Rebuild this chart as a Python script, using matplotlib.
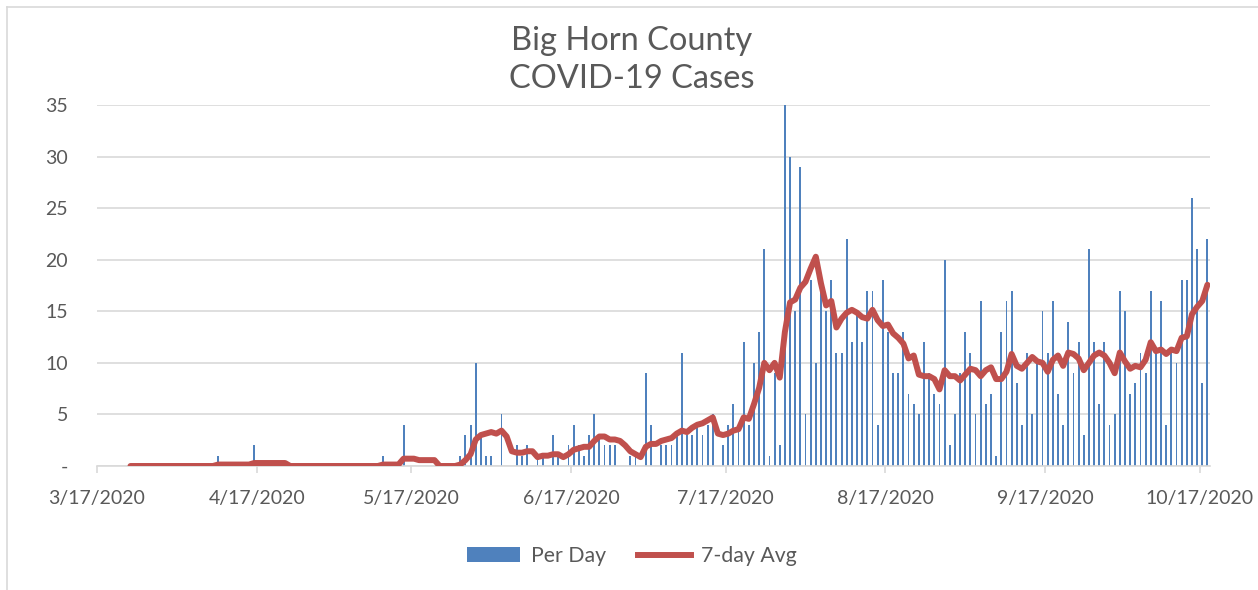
import matplotlib
matplotlib.use('Agg')
import matplotlib.pyplot as plt
import matplotlib.dates as mdates
from matplotlib.patches import Patch
from matplotlib.lines import Line2D
import pandas as pd

# Daily new cases, one value per day starting 3/17/2020
per_day = [
    0, 0, 0, 0, 0, 0, 0, 0, 0, 0, 0, 0, 0, 0, 0, 0, 0, 0, 0, 0,
    0, 0, 0, 1, 0, 0, 0, 0, 0, 0, 2, 0, 0, 0, 0, 0, 0, 0, 0, 0,
    0, 0, 0, 0, 0, 0, 0, 0, 0, 0, 0, 0, 0, 0, 0, 1, 0, 0, 0, 4,
    0, 0, 0, 0, 0, 0, 0, 0, 0, 0,
    1, 3, 4, 10, 3, 1, 1, 0, 5, 0,
    0, 2, 1, 2, 0, 1, 1, 0, 3, 1,
    0, 2, 4, 2, 1, 3, 5, 3, 2, 2,
    2, 0, 0, 1, 1, 0, 9, 4, 0, 2,
    2, 2, 3, 11, 3, 3, 4, 3, 4, 5,
    0, 2, 4, 6, 4, 12, 4, 10, 13, 21,
    1, 9, 2, 35, 30, 15, 29, 5, 18, 10,
    17, 15, 18, 11, 11, 22, 12, 15, 12, 17,
    17, 4, 18, 13, 9, 9, 13, 7, 6, 5,
    12, 9, 7, 6, 20, 2, 5, 9, 13, 11,
    5, 16, 6, 7, 1, 13, 16, 17, 8, 4,
    11, 5, 10, 15, 11, 16, 7, 4, 14, 9,
    12, 3, 21, 12, 6, 12, 4, 5, 17, 15,
    7, 8, 11, 9, 17, 11, 16, 4, 11, 10,
    18, 18, 26, 21, 8, 22,
]

# 7-day average, one value per day starting 3/23/2020
avg_7day = [
    0, 0, 0, 0, 0, 0, 0, 0, 0, 0, 0, 0, 0, 0, 0, 0, 0,
    0.14, 0.14, 0.14, 0.14, 0.14, 0.14, 0.14,
    0.29, 0.29, 0.29, 0.29, 0.29, 0.29, 0.29,
    0, 0, 0, 0, 0, 0, 0, 0, 0, 0, 0, 0, 0, 0, 0, 0, 0, 0,
    0.14, 0.14, 0.14, 0.14, 0.71, 0.71, 0.71, 0.57, 0.57, 0.57, 0.57,
    0, 0, 0, 0,
    0.14, 0.57, 1.14, 2.57, 3.0, 3.14, 3.29, 3.14, 3.43, 2.86,
    1.43, 1.29, 1.29, 1.43, 1.43, 0.86, 1.0, 1.0, 1.14, 1.14,
    0.86, 1.14, 1.57, 1.71, 1.86, 1.86, 2.43, 2.86, 2.86, 2.57,
    2.57, 2.43, 2.0, 1.43, 1.14, 0.86, 1.86, 2.14, 2.14, 2.43,
    2.57, 2.71, 3.14, 3.43, 3.29, 3.71, 4.0, 4.14, 4.43, 4.71,
    3.14, 3.0, 3.14, 3.43, 3.57, 4.71, 4.57, 6.0, 7.57, 10.0,
    9.29, 10.0, 8.57, 13.0, 15.86, 16.14, 17.29, 17.86, 19.14, 20.29,
    17.71, 15.57, 16.0, 13.43, 14.29, 14.86, 15.14, 14.86, 14.43, 14.29,
    15.14, 14.14, 13.57, 13.71, 12.86, 12.43, 11.86, 10.43, 10.71, 8.86,
    8.71, 8.71, 8.43, 7.43, 9.29, 8.71, 8.71, 8.29, 8.86, 9.43,
    9.29, 8.71, 9.29, 9.57, 8.43, 8.43, 9.14, 10.86, 9.71, 9.43,
    10.0, 10.57, 10.14, 10.0, 9.14, 10.29, 10.71, 9.71, 11.0, 10.86,
    10.43, 9.29, 10.0, 10.71, 11.0, 10.71, 10.0, 9.0, 11.0, 10.14,
    9.43, 9.71, 9.57, 10.29, 12.0, 11.14, 11.29, 10.86, 11.29, 11.14,
    12.43, 12.57, 14.71, 15.43, 16.0, 17.57,
]

start_bars = '2020-03-17'
start_avg = '2020-03-23'
axis_end = '2020-10-19'
title = 'Big Horn County\nCOVID-19 Cases'

text_color = '#595959'
grid_color = '#D9D9D9'
bar_color = '#4F81BD'
line_color = '#C0504D'

plt.rcParams['font.family'] = ['Lato', 'DejaVu Sans']

half_day = pd.Timedelta(hours=12)
bar_dates = pd.date_range(start_bars, periods=len(per_day)) + half_day
avg_dates = pd.date_range(start_avg, periods=len(avg_7day)) + half_day

fig = plt.figure(figsize=(12.58, 5.90), dpi=100)
ax = fig.add_axes([97 / 1258, 1 - 466 / 590, (1210 - 97) / 1258, (466 - 105) / 590])

# Bars and 7-day line
ax.bar(bar_dates, per_day, width=0.36, color=bar_color, zorder=2)
ax.plot(avg_dates, avg_7day, color=line_color, linewidth=4.3,
        solid_capstyle='round', solid_joinstyle='round', zorder=3)

ax.set_xlim(pd.Timestamp(start_bars), pd.Timestamp(axis_end))
ax.set_ylim(0, 35)

# Axes styling
ax.set_yticks(range(0, 36, 5))
ax.set_yticklabels(['-' if v == 0 else str(v) for v in range(0, 36, 5)])
ax.grid(True, axis='y', color=grid_color, linewidth=1.2, zorder=0)
ax.set_axisbelow(True)
for side in ['top', 'right', 'left']:
    ax.spines[side].set_visible(False)
ax.spines['bottom'].set_color(grid_color)
ax.spines['bottom'].set_linewidth(1.2)

ax.xaxis.set_major_locator(mdates.DayLocator(bymonthday=17))
ax.xaxis.set_major_formatter(mdates.DateFormatter('%-m/%-d/%Y'))
ax.tick_params(axis='x', length=5, width=1.2, color=grid_color,
               labelsize=14, labelcolor=text_color, pad=12)
ax.tick_params(axis='y', length=0, labelsize=14, labelcolor=text_color, pad=21)

# Title
fig.text(632 / 1258, 1 - 60 / 590, title, ha='center', va='center',
         fontsize=23.5, color=text_color, linespacing=1.35)

# Legend
handles = [
    Patch(facecolor=bar_color, edgecolor='none', label='Per Day'),
    Line2D([0], [0], color=line_color, linewidth=4.3, label='7-day Avg'),
]
fig.legend(handles=handles, loc='center', bbox_to_anchor=(632 / 1258, 1 - 556 / 590),
           ncol=2, frameon=False, fontsize=15.3, labelcolor=text_color,
           handlelength=2.5, handletextpad=0.5, columnspacing=1.5)

# Chart border (left and top edge visible in the crop)
fig.add_artist(Line2D([7 / 1258, 7 / 1258], [0, 1 - 7 / 590], color=grid_color,
                      linewidth=1.2, transform=fig.transFigure))
fig.add_artist(Line2D([7 / 1258, 1], [1 - 7 / 590, 1 - 7 / 590], color=grid_color,
                      linewidth=1.2, transform=fig.transFigure))

fig.savefig('out.png', dpi=100)
